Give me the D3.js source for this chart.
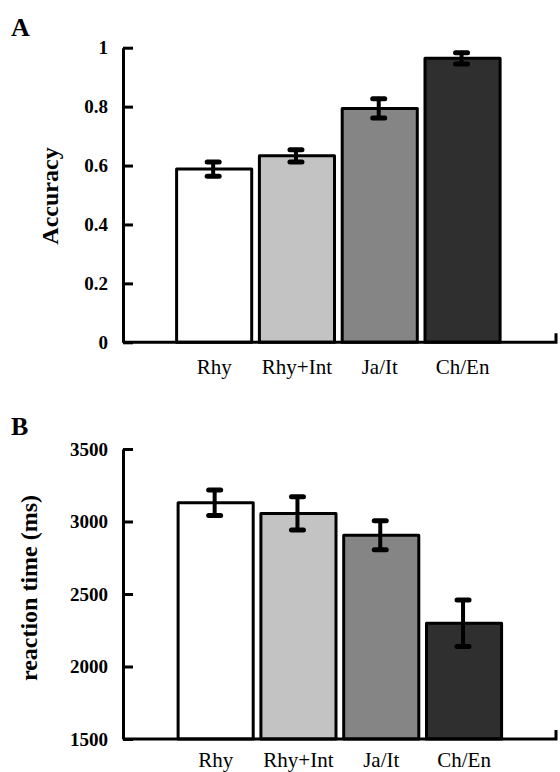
<!DOCTYPE html>
<html>
<head>
<meta charset="utf-8">
<script src="https://cdn.jsdelivr.net/npm/d3@7"></script>
<style>
  body { margin: 0; background: #fff; }
  svg { display: block; font-family: "Liberation Serif", "DejaVu Serif", serif; }
</style>
</head>
<body>
<svg id="chart"></svg>
<script>
const width = 560;
const height = 772;

// data
const conditions = ["Rhy", "Rhy+Int", "Ja/It", "Ch/En"];
const barColors = ["#ffffff", "#c3c3c3", "#858585", "#2f2f2f"];

const accuracy = [0.588, 0.633, 0.794, 0.964];
const accuracyErr = [0.024, 0.021, 0.033, 0.019];
const accuracyTicks = [0, 0.2, 0.4, 0.6, 0.8, 1];

const rt = [3130, 3056, 2905, 2298];
const rtErr = [88, 114, 100, 160];
const rtTicks = [1500, 2000, 2500, 3000, 3500];

const svg = d3.select("#chart")
    .attr("width", width)
    .attr("height", height)
    .attr("viewBox", [0, 0, width, height]);

function drawPanel(p) {
    const x = d3.scaleBand()
        .domain(conditions)
        .range(p.xRange)
        .paddingInner(0.093)
        .paddingOuter(0.046);

    const y = d3.scaleLinear()
        .domain(p.domain)
        .range([p.bottom, p.top]);

    const g = svg.append("g");

    // panel letter
    g.append("text")
        .attr("x", 11)
        .attr("y", p.letterY)
        .attr("font-size", 26)
        .attr("font-weight", "bold")
        .text(p.letter);

    // bars
    g.append("g")
        .selectAll("rect")
        .data(p.values)
        .join("rect")
        .attr("x", (d, i) => x(conditions[i]))
        .attr("y", d => y(d))
        .attr("width", x.bandwidth())
        .attr("height", d => y(p.domain[0]) - y(d))
        .attr("fill", (d, i) => barColors[i])
        .attr("stroke", "#000")
        .attr("stroke-width", 3)
        .attr("stroke-linejoin", "round");

    // error bars
    const eb = g.append("g")
        .attr("stroke", "#000")
        .attr("stroke-linecap", "round")
        .selectAll("g")
        .data(p.values.map((v, i) => ({v, e: p.errors[i], c: conditions[i]})))
        .join("g")
        .attr("transform", d => `translate(${x(d.c) + x.bandwidth() / 2 - 1},0)`);

    eb.append("line")
        .attr("y1", d => y(d.v + d.e))
        .attr("y2", d => y(d.v - d.e))
        .attr("stroke-width", 4);

    eb.selectAll(".cap")
        .data(d => [d.v + d.e, d.v - d.e])
        .join("line")
        .attr("class", "cap")
        .attr("x1", -6)
        .attr("x2", 6)
        .attr("y1", d => y(d))
        .attr("y2", d => y(d))
        .attr("stroke-width", 5);

    // y axis
    g.append("g")
        .attr("transform", `translate(${p.axisX},0)`)
        .call(d3.axisLeft(y)
            .tickValues(p.ticks)
            .tickFormat(d3.format("~g"))
            .tickSizeInner(-10)
            .tickSizeOuter(0)
            .tickPadding(15))
        .call(a => a.select(".domain").attr("stroke-width", 3))
        .call(a => a.selectAll(".tick line").attr("stroke-width", 3))
        .call(a => a.selectAll(".tick text")
            .attr("font-family", "Liberation Serif")
            .attr("font-size", 19)
            .attr("font-weight", "bold")
            .attr("fill", "#000"));

    // x axis: baseline with an upward tick at the right end
    g.append("path")
        .attr("d", `M${p.axisX},${y(p.domain[0])}H${p.right}V${y(p.domain[0]) - 9}`)
        .attr("fill", "none")
        .attr("stroke", "#000")
        .attr("stroke-width", 3);

    g.append("g")
        .attr("transform", `translate(0,${y(p.domain[0])})`)
        .call(d3.axisBottom(x).tickSize(0).tickPadding(p.labelPad))
        .call(a => a.select(".domain").remove())
        .call(a => a.selectAll(".tick text")
            .attr("font-family", "Liberation Serif")
            .attr("font-size", 21)
            .attr("fill", "#000"));

    // y axis title
    g.append("text")
        .attr("transform", `translate(${p.titleX},${p.titleY}) rotate(-90)`)
        .attr("text-anchor", "middle")
        .attr("font-size", 24)
        .attr("font-weight", "bold")
        .text(p.title);
}

drawPanel({
    letter: "A",
    letterY: 36,
    values: accuracy,
    errors: accuracyErr,
    ticks: accuracyTicks,
    domain: [0, 1],
    top: 47.7,
    bottom: 342.3,
    axisX: 123,
    right: 556,
    xRange: [172.8, 503.9],
    labelPad: 17,
    title: "Accuracy",
    titleX: 58,
    titleY: 196
});

drawPanel({
    letter: "B",
    letterY: 435,
    values: rt,
    errors: rtErr,
    ticks: rtTicks,
    domain: [1500, 3500],
    top: 449,
    bottom: 739,
    axisX: 123,
    right: 556,
    xRange: [174.3, 505.4],
    labelPad: 13,
    title: "reaction time (ms)",
    titleX: 37,
    titleY: 588
});
</script>
</body>
</html>
